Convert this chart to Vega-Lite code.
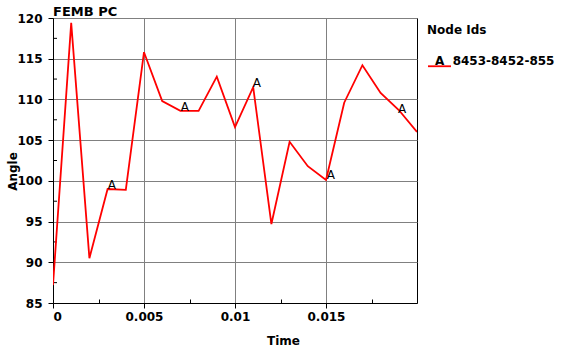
{
  "$schema": "https://vega.github.io/schema/vega-lite/v6.json",
  "width": 364,
  "height": 285,
  "autosize": {"type": "none"},
  "padding": {"left": 53, "top": 18, "right": 146, "bottom": 47},
  "background": "white",
  "title": {"text": "FEMB PC", "anchor": "start", "frame": "group", "offset": -7, "font": "DejaVu Sans", "fontSize": 13, "fontWeight": "bold", "color": "black"},
  "config": {
    "view": {"stroke": "black", "strokeWidth": 1},
    "axis": {"labelFont": "DejaVu Sans", "labelFontSize": 12, "labelFontWeight": "bold", "labelColor": "black", "titleFont": "DejaVu Sans", "titleFontSize": 12, "titleFontWeight": "bold", "titleColor": "black", "domainColor": "black", "tickColor": "black", "gridColor": "#808080", "gridWidth": 1}
  },
  "datasets": {
    "series": [
      {"t": 0.000, "angle": 87.2, "node": "8453-8452-855"},
      {"t": 0.001, "angle": 119.4, "node": "8453-8452-855"},
      {"t": 0.002, "angle": 90.5, "node": "8453-8452-855"},
      {"t": 0.003, "angle": 99.0, "node": "8453-8452-855"},
      {"t": 0.004, "angle": 98.9, "node": "8453-8452-855"},
      {"t": 0.005, "angle": 115.8, "node": "8453-8452-855"},
      {"t": 0.006, "angle": 109.8, "node": "8453-8452-855"},
      {"t": 0.007, "angle": 108.6, "node": "8453-8452-855"},
      {"t": 0.008, "angle": 108.6, "node": "8453-8452-855"},
      {"t": 0.009, "angle": 112.8, "node": "8453-8452-855"},
      {"t": 0.010, "angle": 106.6, "node": "8453-8452-855"},
      {"t": 0.011, "angle": 111.5, "node": "8453-8452-855"},
      {"t": 0.012, "angle": 94.7, "node": "8453-8452-855"},
      {"t": 0.013, "angle": 104.8, "node": "8453-8452-855"},
      {"t": 0.014, "angle": 101.8, "node": "8453-8452-855"},
      {"t": 0.015, "angle": 100.1, "node": "8453-8452-855"},
      {"t": 0.016, "angle": 109.6, "node": "8453-8452-855"},
      {"t": 0.017, "angle": 114.2, "node": "8453-8452-855"},
      {"t": 0.018, "angle": 110.8, "node": "8453-8452-855"},
      {"t": 0.019, "angle": 108.7, "node": "8453-8452-855"},
      {"t": 0.020, "angle": 106.0, "node": "8453-8452-855"}
    ],
    "markers": [
      {"t": 0.00324, "angle": 99.0, "label": "A"},
      {"t": 0.00725, "angle": 108.6, "label": "A"},
      {"t": 0.0112, "angle": 111.5, "label": "A"},
      {"t": 0.01527, "angle": 100.2, "label": "A"},
      {"t": 0.01918, "angle": 108.3, "label": "A"}
    ],
    "yminor": [
      {"angle": 87.5}, {"angle": 92.5}, {"angle": 97.5}, {"angle": 102.5},
      {"angle": 107.5}, {"angle": 112.5}, {"angle": 117.5}
    ]
  },
  "layer": [
    {
      "data": {"name": "yminor"},
      "mark": {"type": "rule", "color": "black", "strokeWidth": 1},
      "encoding": {
        "y": {"field": "angle", "type": "quantitative"},
        "x": {"datum": 0},
        "x2": {"datum": 0.00022}
      }
    },
    {
      "data": {"name": "series"},
      "mark": {"type": "line", "strokeWidth": 1.8, "clip": true},
      "encoding": {
        "x": {"field": "t", "type": "quantitative", "scale": {"domain": [0, 0.02], "nice": false, "zero": false},
          "axis": {"title": "Time", "titleX": 230, "titleY": 41, "titleBaseline": "alphabetic",
            "values": [0, 0.0025, 0.005, 0.0075, 0.01, 0.0125, 0.015, 0.0175],
            "labelExpr": "abs(datum.value*200 - round(datum.value*200)) < 0.000001 ? format(datum.value, '~g') : ''",
            "labelPadding": 3,
            "tickSize": {"condition": {"test": "abs(datum.value*200 - round(datum.value*200)) < 0.000001", "value": 5}, "value": -4},
            "gridOpacity": {"condition": {"test": "abs(datum.value*200 - round(datum.value*200)) < 0.000001", "value": 1}, "value": 0},
            "grid": true}},
        "y": {"field": "angle", "type": "quantitative", "scale": {"domain": [85, 120], "nice": false, "zero": false},
          "axis": {"title": "Angle", "titleX": -37, "titleY": 153, "titleBaseline": "alphabetic",
            "values": [85, 90, 95, 100, 105, 110, 115, 120],
            "labelPadding": 6, "tickSize": 5, "grid": true}},
        "color": {"field": "node", "type": "nominal", "scale": {"range": ["#ff0000"]},
          "legend": {"title": "Node Ids", "orient": "none", "legendX": 374, "legendY": 7, "padding": 0,
            "titleFont": "DejaVu Sans", "titleFontSize": 12, "titleFontWeight": "bold", "titleColor": "black", "titlePadding": 11,
            "labelFont": "DejaVu Sans", "labelFontSize": 12, "labelFontWeight": "bold", "labelColor": "black",
            "labelExpr": "'A\u00a0\u00a0' + datum.label", "labelOffset": -17,
            "symbolType": "M-1,0.5H1", "symbolSize": 529, "symbolStrokeWidth": 1.8}}
      }
    },
    {
      "data": {"name": "markers"},
      "mark": {"type": "text", "font": "DejaVu Sans", "fontSize": 12, "color": "black", "baseline": "alphabetic", "align": "center"},
      "encoding": {
        "x": {"field": "t", "type": "quantitative"},
        "y": {"field": "angle", "type": "quantitative"},
        "text": {"field": "label"}
      }
    }
  ]
}
